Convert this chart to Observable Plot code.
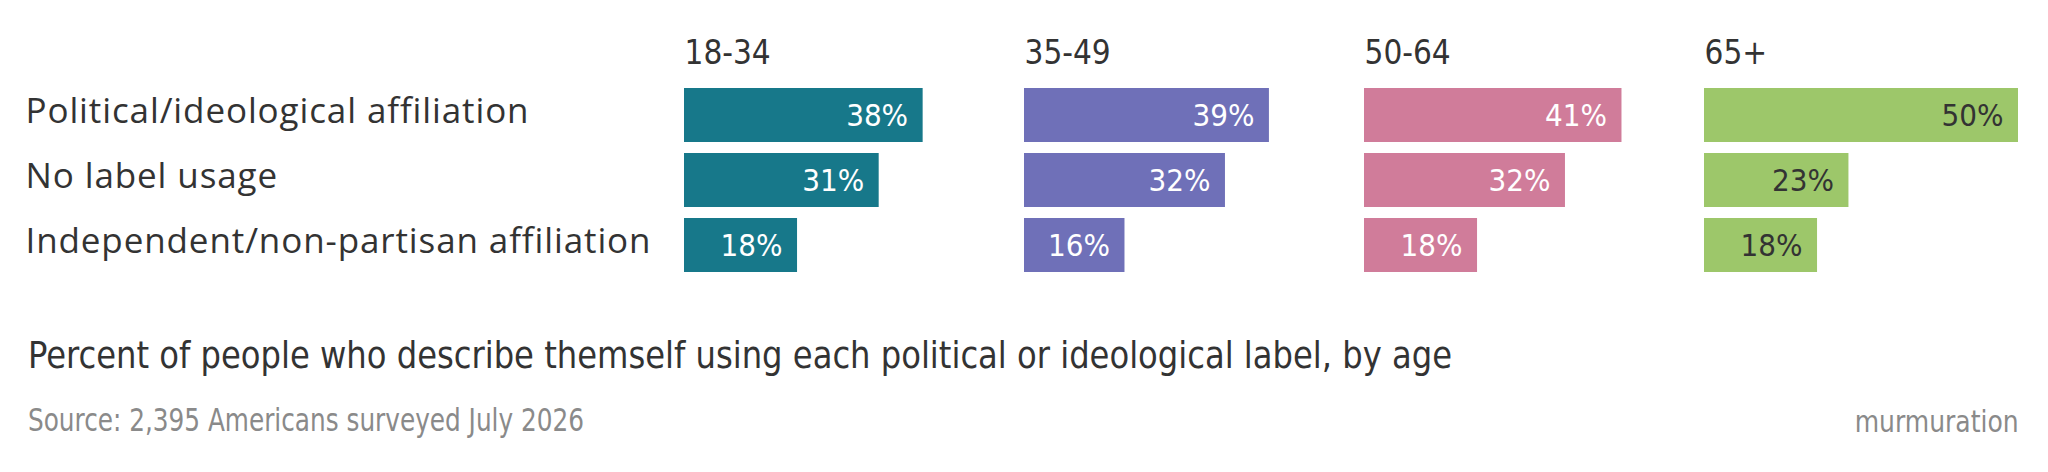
<!DOCTYPE html>
<html>
<head>
<meta charset="utf-8">
<script src="https://cdn.jsdelivr.net/npm/d3@7"></script>
<script src="https://cdn.jsdelivr.net/npm/@observablehq/plot@0.6"></script>
<style>
  html, body { margin: 0; padding: 0; background: #fff; }
  #wrap { position: relative; width: 2048px; height: 472px; overflow: hidden; }
  #chart { position: absolute; left: 0; top: 0; }
  .cond { font-family: "DejaVu Sans Condensed", sans-serif; font-stretch: condensed; line-height: 1; white-space: nowrap; position: absolute; }
  #title { left: 28px; top: 336px; font-size: 38px; color: #333; transform-origin: left top; }
  #source { left: 28px; top: 404px; font-size: 32px; color: #8a8a8a; transform-origin: left top; }
  #brand { right: 29px; top: 407px; font-size: 30px; color: #8a8a8a; transform-origin: right top; }
</style>
</head>
<body>
<div id="wrap">
  <div id="chart"></div>
  <div id="title" class="cond">Percent of people who describe themself using each political or ideological label, by age</div>
  <div id="source" class="cond">Source: 2,395 Americans surveyed July 2026</div>
  <div id="brand" class="cond">murmuration</div>
</div>
<script>
const ages = ["18-34", "35-49", "50-64", "65+"];
const labels = ["Political/ideological affiliation", "No label usage", "Independent/non-partisan affiliation"];
const values1834 = [38, 31, 18];
const values3549 = [39, 32, 16];
const values5064 = [41, 32, 18];
const values65 = [50, 23, 18];
const ageColors = ["#17788a", "#6f70b8", "#d07c9a", "#9dc76a"];

const series = [values1834, values3549, values5064, values65];
const rows = [];
ages.forEach((age, i) => labels.forEach((label, j) => rows.push({age, label, value: series[i][j]})));

const condFont = '"DejaVu Sans Condensed", sans-serif';
const labelFont = '"Open Sans", "Noto Sans", sans-serif';
const labelSize = 35;

// letter-spacing so the longest label spans its width in the reference
const ctx = document.createElement("canvas").getContext("2d");
ctx.font = `${labelSize}px ${labelFont}`;
const longest = labels[2];
const measured = ctx.measureText(longest).width;
const spacing = (626 - measured) / longest.length;
const st = document.createElement("style");
st.textContent = `#chart svg g[aria-label="y-axis tick label"] text { letter-spacing: ${spacing.toFixed(2)}px; }`;
document.head.appendChild(st);

const chart = Plot.plot({
  width: 2048,
  height: 300,
  marginLeft: 683,
  marginRight: 30,
  marginTop: 76,
  marginBottom: 16,
  style: {background: "transparent", fontFamily: condFont},
  fx: {domain: ages, padding: 0.077, axis: null},
  x: {domain: [0, 50], axis: null},
  y: {domain: labels, padding: 0.17},
  color: {domain: ages, range: ageColors},
  marks: [
    Plot.axisY({anchor: "left", tickSize: 0, textAnchor: "start", dx: -650, dy: -3.5,
      fontSize: labelSize, fontFamily: labelFont, fill: "#333", label: null}),
    Plot.barX(rows, {x: "value", y: "label", fx: "age", fill: "age"}),
    Plot.text(rows.filter(d => d.age !== "65+"), {x: "value", y: "label", fx: "age",
      text: d => d.value + "%", textAnchor: "end", dx: -15, dy: 1, fill: "white", fontSize: 31, fontFamily: condFont}),
    Plot.text(rows.filter(d => d.age === "65+"), {x: "value", y: "label", fx: "age",
      text: d => d.value + "%", textAnchor: "end", dx: -15, dy: 1, fill: "#333", fontSize: 31, fontFamily: condFont}),
    Plot.text(ages, {fx: d => d, text: d => d, frameAnchor: "top-left", lineAnchor: "bottom",
      dy: -13, fontSize: 33, fill: "#333", fontFamily: condFont, ariaLabel: "age header"})
  ]
});
document.getElementById("chart").appendChild(chart);

// narrow the age headers to the reference's condensed look
d3.select(chart).selectAll('g[aria-label="age header"] text').each(function() {
  const w = this.getComputedTextLength();
  this.setAttribute("textLength", (w * 0.9).toFixed(1));
  this.setAttribute("lengthAdjust", "spacingAndGlyphs");
});

// fit the caption lines to their widths in the reference
function fit(id, target) {
  const el = document.getElementById(id);
  const w = el.getBoundingClientRect().width;
  el.style.transform = `scaleX(${target / w})`;
}
fit("title", 1424);
fit("source", 556);
fit("brand", 164);
</script>
</body>
</html>
